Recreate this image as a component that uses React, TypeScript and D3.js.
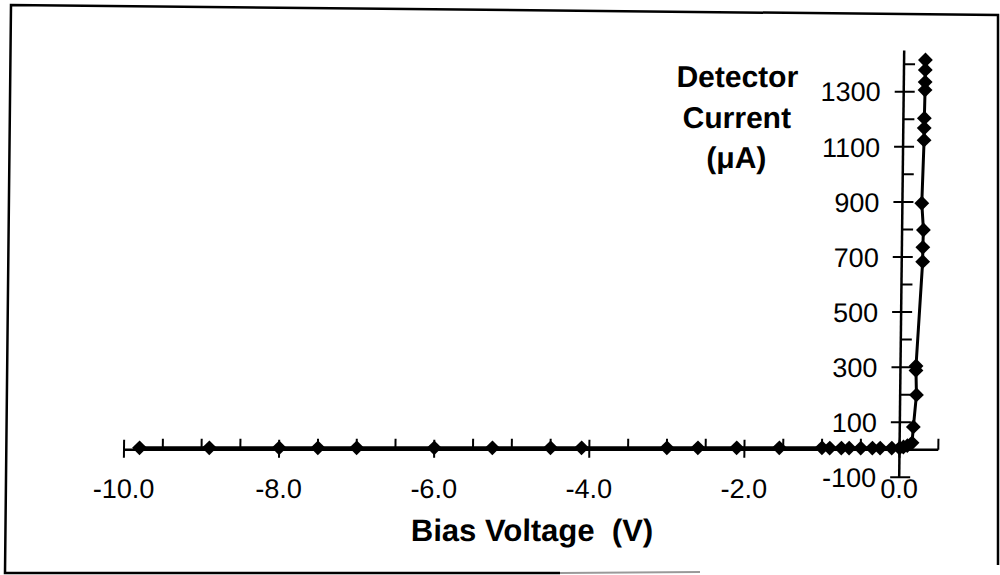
import React from 'react';
import * as d3 from 'd3';

// Bias sweep of the detector: voltage (V) and measured current (µA)
const biasVoltage = [
  -9.8, -8.9, -8.0, -7.5, -7.0, -6.0, -5.25, -4.5, -4.1, -3.0, -2.6, -2.1, -1.55, -1.0,
  -0.9, -0.75, -0.65, -0.5, -0.35, -0.25, -0.1, 0.0, 0.05, 0.1,
  0.16, 0.175, 0.21, 0.2, 0.2, 0.27, 0.27, 0.275, 0.25, 0.27, 0.27, 0.27, 0.275, 0.275, 0.275, 0.275,
];
const detectorCurrent = [
  7, 7, 7, 7, 7, 7, 7, 7, 7, 7, 7, 7, 7, 7,
  6, 6, 6, 6, 6, 6, 6, 6, 10, 15,
  25, 83, 199, 288, 304, 683, 735, 798, 895, 1124, 1168, 1204, 1306, 1335, 1379, 1415,
];

const xMajorTicks = [-10, -8, -6, -4, -2, 0];
const xMinorTicks = d3.range(-9.5, 0.51, 0.5).filter((v) => !xMajorTicks.includes(v));
const yMajorTicks = [-100, 100, 300, 500, 700, 900, 1100, 1300];
const yMinorTicks = [200, 400, 600, 800, 1000, 1200, 1400];

const FONT = '"Liberation Sans", Arial, Helvetica, sans-serif';

export default function App() {
  const x = d3.scaleLinear().domain([-10, 0.5]).range([124, 938.3]);
  const y = d3.scaleLinear().domain([-100, 1450]).range([477.3, 50.4]);
  const y0 = y(0);
  const x0 = x(0);
  // slight lean of the vertical axis, anchored on the horizontal axis
  const k = -0.0117;
  const lean = `matrix(1,0,${k},1,${-k * y0},0)`;

  const points = biasVoltage.map((v, i) => ({ v, c: detectorCurrent[i] }));
  const linePath = d3
    .line<{ v: number; c: number }>()
    .x((d) => x(d.v))
    .y((d) => y(d.c))(points) as string;
  const diamond = d3.symbol().type(d3.symbolSquare).size(110)() as string;

  return (
    <svg
      width={1000}
      height={575}
      style={{ position: 'absolute', left: 0, top: 0, background: '#fff' }}
      fontFamily={FONT}
    >
      <rect x={0} y={0} width={1000} height={575} fill="#fff" />
      {/* outer frame */}
      <path d="M998,565 L998,15 L11,5 L5,573 L560,573" fill="none" stroke="#000" strokeWidth={2.5} />
      <path d="M560,573 L700,572" fill="none" stroke="#999" strokeWidth={2} />

      <g transform={lean}>
        {/* horizontal axis */}
        <line x1={x(-10)} x2={x(0.5)} y1={y0} y2={y0} stroke="#000" strokeWidth={2.5} />
        {xMajorTicks.map((t) => (
          <line key={'xM' + t} x1={x(t)} x2={x(t)} y1={y0 - 10} y2={y0 + 8} stroke="#000" strokeWidth={2} />
        ))}
        {xMinorTicks.map((t) => (
          <line key={'xm' + t} x1={x(t)} x2={x(t)} y1={y0 - 11} y2={y0} stroke="#000" strokeWidth={2} />
        ))}
        {xMajorTicks.map((t) => (
          <text key={'xl' + t} x={x(t)} y={y0 + 48} fontSize={27} textAnchor="middle" fill="#000">
            {t.toFixed(1)}
          </text>
        ))}

        {/* vertical axis */}
        <line x1={x0} x2={x0} y1={y(-100)} y2={y(1450)} stroke="#000" strokeWidth={2.5} />
        {yMajorTicks.map((t) => (
          <line key={'yM' + t} x1={x0 - 9} x2={x0 + 11} y1={y(t)} y2={y(t)} stroke="#000" strokeWidth={2} />
        ))}
        {yMinorTicks.map((t) => (
          <line key={'ym' + t} x1={x0} x2={x0 + 11} y1={y(t)} y2={y(t)} stroke="#000" strokeWidth={2} />
        ))}
        {yMajorTicks.map((t) => (
          <text key={'yl' + t} x={x0 - 23} y={y(t)} dy="0.36em" fontSize={27} textAnchor="end" fill="#000">
            {t}
          </text>
        ))}

        {/* measured curve */}
        <path d={linePath} fill="none" stroke="#000" strokeWidth={3} strokeLinejoin="round" />
        {points.map((d, i) => (
          <path
            key={'p' + i}
            d={diamond}
            transform={`translate(${x(d.v)},${y(d.c)}) rotate(45)`}
            fill="#000"
          />
        ))}

        {/* axis titles */}
        <text x={533} y={541.5} fontSize={31} fontWeight="bold" textAnchor="middle" fill="#000">
          {'Bias Voltage\u00a0\u00a0(V)'}
        </text>
        <g fontSize={30} fontWeight="bold" textAnchor="middle" fill="#000">
          <text x={733} y={87}>Detector</text>
          <text x={733} y={128}>Current</text>
          <text x={733} y={168}>(μA)</text>
        </g>
      </g>
    </svg>
  );
}
